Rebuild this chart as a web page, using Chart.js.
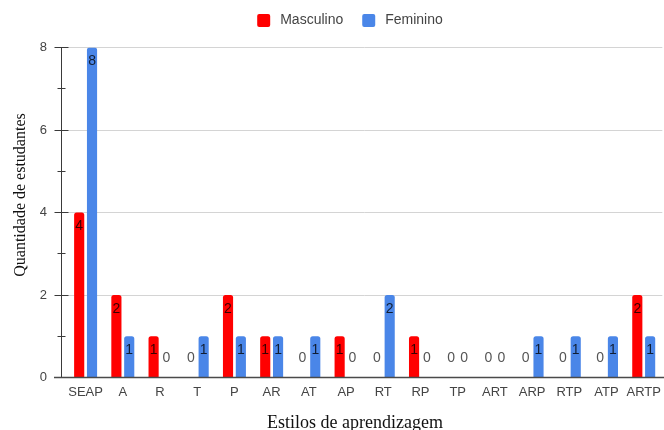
<!DOCTYPE html>
<html>
<head>
<meta charset="utf-8">
<script src="https://cdn.jsdelivr.net/npm/chart.js@4.4.1/dist/chart.umd.min.js"></script>
<style>
  html, body { margin: 0; padding: 0; background: #fff; overflow: hidden; }
  #wrap { width: 668px; height: 430px; }
</style>
</head>
<body>
<div id="wrap"><canvas id="c" width="668" height="430"></canvas></div>
<script>
// Learning styles and number of students per style
const estilos = ['SEAP', 'A', 'R', 'T', 'P', 'AR', 'AT', 'AP', 'RT', 'RP', 'TP', 'ART', 'ARP', 'RTP', 'ATP', 'ARTP'];
const masculino = [4, 2, 1, 0, 2, 1, 0, 1, 0, 1, 0, 0, 0, 0, 0, 2];
const feminino  = [8, 1, 0, 1, 1, 1, 1, 0, 2, 0, 0, 0, 1, 1, 1, 1];
const yLabels = [0, 2, 4, 6, 8];

const seriesNames = ['Masculino', 'Feminino'];
const seriesColors = ['#ff0000', '#4a86e8'];

const SANS = 'Arial, "Liberation Sans", sans-serif';
const SERIF = '"Times New Roman", "Liberation Serif", serif';

// Axis lines, tick marks, value labels, legend and axis titles
const decorations = {
  id: 'decorations',
  afterDatasetsDraw(chart) {
    const { ctx, chartArea: a, scales: { y } } = chart;
    const align = (p) => Math.round(p - 0.5) + 0.5;
    ctx.save();

    // vertical axis line with major / minor tick marks
    ctx.strokeStyle = '#3a3a3a';
    ctx.lineWidth = 1;
    ctx.beginPath();
    ctx.moveTo(61.5, a.top);
    ctx.lineTo(61.5, a.bottom);
    ctx.stroke();
    for (let v = y.min + 1; v <= y.max; v++) {
      const py = align(y.getPixelForValue(v));
      const half = yLabels.includes(v) ? 7 : 4;
      ctx.beginPath();
      ctx.moveTo(61.5 - half, py);
      ctx.lineTo(61.5 + half, py);
      ctx.stroke();
    }

    // value labels on each bar
    ctx.font = '14px ' + SANS;
    ctx.textAlign = 'center';
    ctx.textBaseline = 'middle';
    chart.data.datasets.forEach((ds, i) => {
      chart.getDatasetMeta(i).data.forEach((bar, j) => {
        const v = ds.data[j];
        if (v > 0) {
          ctx.fillStyle = 'rgba(0,0,0,0.78)';
          ctx.fillText(String(v), bar.x, bar.y + 14);
        } else {
          ctx.fillStyle = '#555';
          ctx.fillText(String(v), bar.x, bar.y - 19);
        }
      });
    });

    // horizontal baseline
    ctx.strokeStyle = '#4a4a4a';
    ctx.lineWidth = 1.5;
    ctx.beginPath();
    ctx.moveTo(54, a.bottom);
    ctx.lineTo(chart.width, a.bottom);
    ctx.stroke();

    // legend
    ctx.font = '14px ' + SANS;
    ctx.textAlign = 'left';
    ctx.textBaseline = 'middle';
    const box = 13, gapText = 10, gapItem = 19, ly = 20.5;
    const widths = seriesNames.map(n => ctx.measureText(n).width);
    const total = widths.reduce((s, w) => s + box + gapText + w, 0) + gapItem * (seriesNames.length - 1);
    let lx = 350 - total / 2;
    seriesNames.forEach((n, i) => {
      ctx.fillStyle = seriesColors[i];
      ctx.beginPath();
      ctx.roundRect(lx, ly - box / 2, box, box, 2);
      ctx.fill();
      ctx.fillStyle = '#444';
      ctx.fillText(n, lx + box + gapText, ly);
      lx += box + gapText + widths[i] + gapItem;
    });

    // axis titles
    ctx.fillStyle = '#111';
    ctx.textAlign = 'center';
    ctx.textBaseline = 'alphabetic';
    ctx.font = '18px ' + SERIF;
    ctx.fillText('Estilos de aprendizagem', 355, 428);
    ctx.font = '16px ' + SERIF;
    ctx.translate(25, 195);
    ctx.rotate(-Math.PI / 2);
    ctx.fillText('Quantidade de estudantes', 0, 0);

    ctx.restore();
  }
};

new Chart(document.getElementById('c'), {
  type: 'bar',
  data: {
    labels: estilos,
    datasets: [
      { label: seriesNames[0], data: masculino, backgroundColor: seriesColors[0] },
      { label: seriesNames[1], data: feminino, backgroundColor: seriesColors[1] }
    ]
  },
  options: {
    responsive: false,
    animation: false,
    devicePixelRatio: 1,
    layout: { padding: { left: 0, top: 47.5, right: 2, bottom: 0 } },
    datasets: {
      bar: {
        categoryPercentage: 0.69,
        barPercentage: 0.79,
        borderRadius: 2.5,
        borderSkipped: 'start'
      }
    },
    plugins: {
      legend: { display: false },
      tooltip: { enabled: false }
    },
    scales: {
      x: {
        offset: true,
        grid: { display: false, drawTicks: false },
        border: { display: false },
        ticks: { color: '#444', font: { family: SANS, size: 13 }, padding: 7, maxRotation: 0, autoSkip: false },
        afterFit: (s) => { s.height = 52.5; }
      },
      y: {
        min: 0,
        max: 8,
        grid: {
          drawTicks: false,
          color: (c) => (c.tick && yLabels.includes(c.tick.value) && c.tick.value !== 0) ? '#d4d4d4' : 'rgba(0,0,0,0)'
        },
        border: { display: false },
        ticks: {
          stepSize: 1,
          padding: 20,
          color: '#444',
          font: { family: SANS, size: 13 },
          callback: (v) => yLabels.includes(v) ? String(v) : ''
        },
        afterFit: (s) => { s.width = 67; }
      }
    }
  },
  plugins: [decorations]
});
</script>
</body>
</html>
